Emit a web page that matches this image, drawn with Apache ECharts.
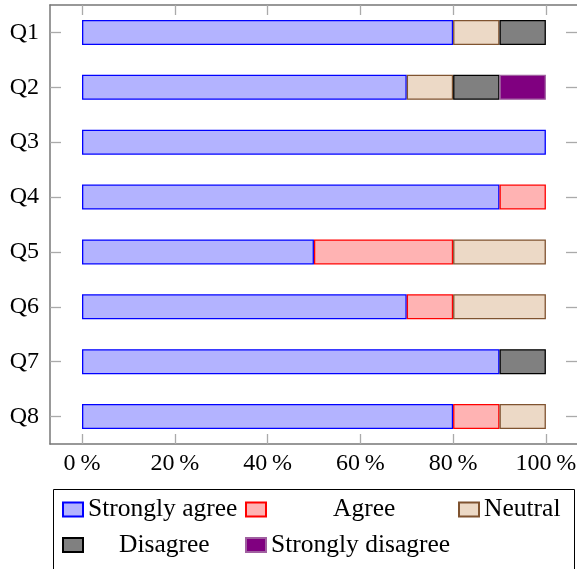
<!DOCTYPE html>
<html>
<head>
<meta charset="utf-8">
<script src="https://cdn.jsdelivr.net/npm/echarts@6/dist/echarts.min.js"></script>
<style>html,body{margin:0;padding:0;background:#fff}#c{width:577px;height:569px}</style>
</head>
<body>
<div id="c"></div>
<script>
const categories = ['Q1','Q2','Q3','Q4','Q5','Q6','Q7','Q8'];
const stronglyAgree    = [80, 70, 100, 90, 50, 70, 90, 80];
const agree            = [null, null, null, 10, 30, 10, null, 10];
const neutral          = [10, 10, null, null, 20, 20, null, 10];
const disagree         = [10, 10, null, null, null, null, 10, null];
const stronglyDisagree = [null, 10, null, null, null, null, null, null];
const xTicks = [0, 20, 40, 60, 80, 100];
const seriesNames = ['Strongly agree','Agree','Neutral','Disagree','Strongly disagree'];

const FONT = 'Liberation Serif';
const styles = [
  {color:'#b3b3ff', borderColor:'#0000ff'},
  {color:'#ffb3b3', borderColor:'#ff0000'},
  {color:'#ecd9c6', borderColor:'#7f5330'},
  {color:'#808080', borderColor:'#000000'},
  {color:'#800080', borderColor:'#a060a0'}
];
const dataSets = [stronglyAgree, agree, neutral, disagree, stronglyDisagree];

const series = seriesNames.map((n,i)=>({
  name:n, type:'bar', stack:'s', barWidth:25,
  data:dataSets[i],
  itemStyle:Object.assign({borderWidth:1.3}, styles[i]),
  emphasis:{disabled:true},
  animation:false
}));

function leg(name, left, top, pad){
  return {
    data:[name], left:left, top:top, padding:0, orient:'horizontal',
    itemWidth:20, itemHeight:14, itemGap:0, icon:'rect',
    selectedMode:false,
    textStyle:{fontFamily:FONT, fontSize:25.5, color:'#000', lineHeight:26, padding:[0,0,0,pad]}
  };
}

const axisLineStyle = {color:'#777', width:1.5};
const tickStyle = {color:'#aaa', width:1.3};
const XMIN = -6.9, XMAX = 108;
const chart = echarts.init(document.getElementById('c'));
chart.setOption({
  animation:false,
  grid:{left:50, right:-6, top:5, bottom:125, containLabel:false, outerBoundsMode:'none'},
  xAxis:[{
    type:'value', min:XMIN, max:XMAX, position:'bottom',
    axisLine:{show:true, onZero:false, lineStyle:axisLineStyle},
    axisTick:{show:true, inside:true, length:10, customValues:xTicks, lineStyle:tickStyle},
    axisLabel:{customValues:xTicks, formatter:v=>v+'\u2009%', fontFamily:FONT, fontSize:24, color:'#000', margin:8},
    splitLine:{show:false}
  },{
    type:'value', min:XMIN, max:XMAX, position:'top',
    axisLine:{show:true, onZero:false, lineStyle:axisLineStyle},
    axisTick:{show:true, inside:true, length:10, customValues:xTicks, lineStyle:tickStyle},
    axisLabel:{show:false},
    splitLine:{show:false}
  }],
  yAxis:[{
    type:'category', data:categories, inverse:true, position:'left',
    axisLine:{show:true, onZero:false, lineStyle:axisLineStyle},
    axisTick:{show:true, inside:true, length:11, alignWithLabel:true, lineStyle:tickStyle},
    axisLabel:{fontFamily:FONT, fontSize:24, color:'#000', margin:11},
    splitLine:{show:false}
  },{
    type:'category', data:categories, inverse:true, position:'right', offset:-6,
    axisLine:{show:false, onZero:false},
    axisTick:{show:true, inside:true, length:11, alignWithLabel:true, lineStyle:tickStyle},
    axisLabel:{show:false},
    splitLine:{show:false}
  }],
  legend:[
    leg('Strongly agree', 62, 496.5, 0),
    leg('Agree', 245, 496.5, 62),
    leg('Neutral', 458, 496.5, 0),
    leg('Disagree', 62, 532, 31),
    leg('Strongly disagree', 245, 532, 0)
  ],
  graphic:[{
    type:'rect', shape:{x:53.5, y:489.5, width:521, height:100},
    style:{fill:'none', stroke:'#000', lineWidth:1}, silent:true, z:-1
  }],
  series:series
});
</script>
</body>
</html>
